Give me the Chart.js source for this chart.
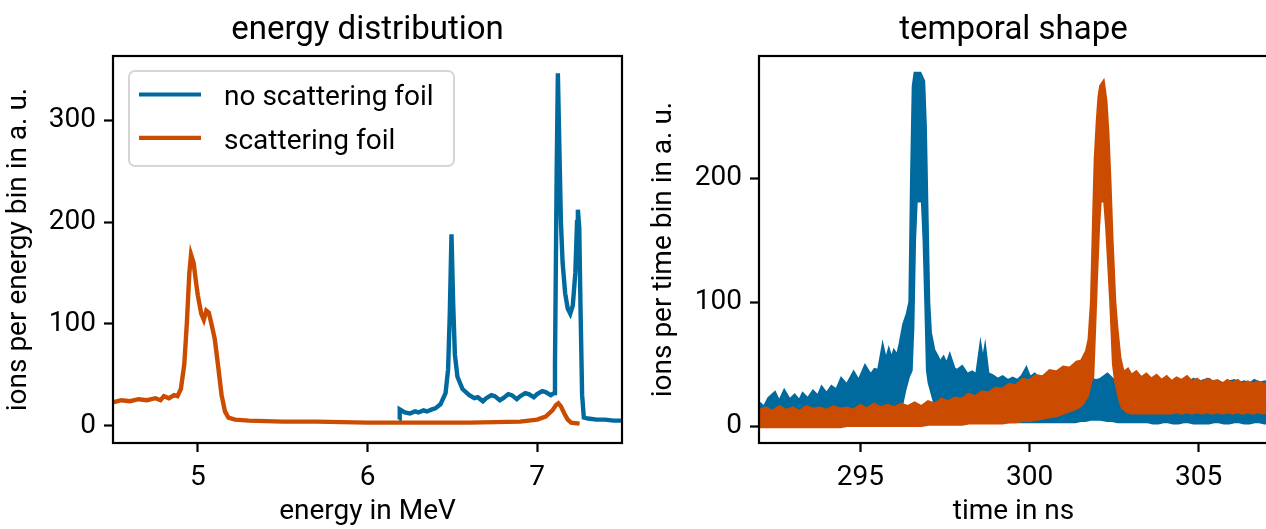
<!DOCTYPE html>
<html>
<head>
<meta charset="utf-8">
<script src="https://cdn.jsdelivr.net/npm/chart.js@4.4.1/dist/chart.umd.min.js"></script>
<style>
  html, body { margin: 0; padding: 0; background: #fff; overflow: hidden; }
  body { width: 1266px; height: 529px; position: relative; }
  canvas { position: absolute; top: 0; }
  #energyChart { left: 0; }
  #timeChart { left: 640px; }
</style>
</head>
<body>
<canvas id="energyChart" width="640" height="529"></canvas>
<canvas id="timeChart" width="628" height="529"></canvas>
<script>
const seriesNames = ["no scattering foil", "scattering foil"];
const seriesColors = ["#006a9e", "#cb4c00"];

const energyTicks = [5, 6, 7];
const energyCountTicks = [0, 100, 200, 300];
const timeTicks = [295, 300, 305];
const timeCountTicks = [0, 100, 200];

// energy spectra, MeV -> ions per bin
const energyNoFoil = [6.187, 6.19, 6.22, 6.25, 6.28, 6.30, 6.33, 6.35, 6.38, 6.40,
  6.43, 6.46, 6.475, 6.485, 6.495, 6.505, 6.515, 6.53, 6.56, 6.60,
  6.63, 6.65, 6.68, 6.70, 6.73, 6.75, 6.78, 6.80, 6.83, 6.85,
  6.88, 6.90, 6.93, 6.95, 6.98, 7.00, 7.03, 7.05, 7.08, 7.10,
  7.105, 7.115, 7.122, 7.13, 7.14, 7.15, 7.165, 7.18, 7.195, 7.21,
  7.225, 7.235, 7.24, 7.248, 7.255, 7.265, 7.275, 7.30, 7.35, 7.40,
  7.45, 7.50];
const countsNoFoil = [6, 16, 13, 12, 14, 13, 15, 14, 16, 17,
  21, 32, 55, 110, 188, 120, 70, 48, 36, 30,
  27, 28, 24, 27, 30, 29, 25, 27, 31, 30,
  26, 29, 32, 31, 28, 31, 34, 33, 30, 32,
  60, 250, 346, 280, 200, 160, 130, 115, 110, 118,
  150, 200, 212, 195, 120, 30, 8, 7, 6, 6,
  5, 5];
const energyFoil = [4.50, 4.55, 4.60, 4.65, 4.70, 4.75, 4.78, 4.80, 4.83, 4.86,
  4.88, 4.90, 4.92, 4.935, 4.95, 4.96, 4.975, 4.99, 5.00, 5.02,
  5.035, 5.05, 5.065, 5.08, 5.10, 5.12, 5.14, 5.16, 5.18, 5.22,
  5.30, 5.50, 5.70, 6.00, 6.30, 6.60, 6.90, 7.00, 7.05, 7.09,
  7.11, 7.125, 7.14, 7.16, 7.18, 7.20, 7.25];
const countsFoil = [23, 25, 24, 26, 25, 27, 25, 29, 27, 30,
  29, 36, 60, 100, 150, 168, 160, 140, 128, 110,
  104, 113, 111, 100, 85, 58, 30, 14, 8, 6,
  5, 4, 4, 3, 3, 3, 4, 6, 9, 15,
  20, 22, 19, 12, 6, 3, 2];

// temporal shape: upper and lower edge of the noisy trace, ns -> ions per bin
const timeNoFoil = [292.0, 292.15, 292.3, 292.46, 292.6, 292.75, 292.9, 293.05, 293.2, 293.3,
  293.45, 293.6, 293.75, 293.86, 294.0, 294.15, 294.3, 294.44, 294.6, 294.8,
  294.95, 295.14, 295.3, 295.43, 295.55, 295.66, 295.75, 295.84, 295.92, 296.0,
  296.1, 296.19, 296.3, 296.4, 296.48, 296.53, 296.58, 296.63, 296.75, 296.85,
  296.9, 296.95, 297.0, 297.05, 297.15, 297.25, 297.35, 297.45, 297.55, 297.64,
  297.75, 297.85, 298.0, 298.15, 298.3, 298.45, 298.55, 298.62, 298.68, 298.75,
  298.9, 299.05, 299.2, 299.35, 299.5, 299.65, 299.8, 299.9, 300.0, 300.15,
  300.3, 300.45, 300.6, 300.75, 300.9, 301.05, 301.2, 301.35, 301.5, 301.65,
  301.8, 301.95, 302.1, 302.3, 302.45, 302.6, 302.75, 302.9, 303.05, 303.2,
  303.35, 303.5, 303.65, 303.8, 303.95, 304.1, 304.25, 304.4, 304.55, 304.7,
  304.85, 305.0, 305.15, 305.3, 305.45, 305.6, 305.75, 305.9, 306.05, 306.2,
  306.35, 306.5, 306.65, 306.8, 306.95, 307.1];
const highNoFoil = [18, 14, 22, 26, 18, 27, 20, 24, 19, 25,
  21, 27, 23, 30, 25, 31, 28, 37, 32, 42,
  35, 47, 40, 45, 44, 61, 50, 59, 52, 59,
  55, 66, 82, 90, 100, 200, 274, 284, 284, 278,
  241, 170, 100, 75, 61, 56, 50, 54, 48, 55,
  46, 44, 47, 41, 43, 40, 60, 48, 58, 42,
  40, 37, 39, 36, 38, 36, 40, 45, 38, 41,
  37, 40, 36, 39, 37, 35, 38, 36, 37, 35,
  38, 36, 37, 41, 37, 35, 33, 31, 33, 30,
  34, 32, 35, 33, 36, 34, 35, 33, 36, 34,
  37, 34, 36, 37, 34, 35, 33, 35, 36, 34,
  35, 33, 36, 34, 35, 33];
const lowNoFoil = [8, 8, 9, 9, 9, 10, 9, 10, 9, 10,
  10, 10, 11, 11, 11, 11, 11, 12, 12, 12,
  12, 13, 13, 13, 13, 13, 14, 14, 14, 14,
  15, 16, 30, 40, 45, 80, 150, 182, 182, 182,
  150, 100, 45, 35, 25, 15, 12, 10, 9, 8,
  7, 7, 6, 6, 6, 5, 5, 5, 5, 5,
  5, 5, 4, 4, 4, 4, 4, 4, 4, 4,
  4, 4, 4, 4, 4, 4, 4, 4, 5, 5,
  6, 6, 6, 5, 5, 4, 4, 4, 4, 4,
  4, 4, 3, 3, 4, 4, 3, 3, 4, 4,
  3, 3, 3, 3, 4, 4, 3, 3, 4, 4,
  3, 3, 4, 4, 3, 3];
const timeFoil = [292.0, 292.2, 292.4, 292.6, 292.8, 293.0, 293.2, 293.4, 293.6, 293.8,
  294.0, 294.2, 294.4, 294.6, 294.8, 295.0, 295.2, 295.4, 295.6, 295.8,
  296.0, 296.2, 296.4, 296.6, 296.8, 297.0, 297.2, 297.4, 297.6, 297.8,
  298.0, 298.2, 298.4, 298.6, 298.8, 299.0, 299.2, 299.4, 299.6, 299.8,
  300.0, 300.2, 300.4, 300.6, 300.8, 301.0, 301.2, 301.4, 301.55, 301.7,
  301.78, 301.85, 301.92, 301.96, 302.02, 302.07, 302.12, 302.17, 302.24, 302.3,
  302.36, 302.42, 302.5, 302.56, 302.65, 302.76, 302.9, 303.0, 303.15, 303.3,
  303.45, 303.6, 303.75, 303.9, 304.05, 304.2, 304.35, 304.5, 304.65, 304.8,
  304.95, 305.1, 305.25, 305.4, 305.55, 305.7, 305.85, 306.0, 306.15, 306.3,
  306.45, 306.6, 306.75, 306.9, 307.1];
const highFoil = [12, 14, 11, 15, 12, 14, 11, 15, 13, 14,
  12, 15, 13, 14, 12, 16, 13, 17, 14, 16,
  14, 17, 15, 18, 15, 19, 17, 21, 19, 22,
  21, 25, 23, 27, 26, 30, 29, 33, 32, 37,
  36, 40, 39, 44, 43, 47, 46, 51, 52, 60,
  70, 100, 175, 215, 245, 265, 274, 276, 262, 235,
  195, 150, 100, 80, 55, 42, 45, 40, 43, 38,
  41, 37, 40, 36, 39, 35, 38, 36, 39, 35,
  37, 34, 37, 35, 36, 33, 36, 34, 36, 33,
  35, 33, 35, 33, 34];
const lowFoil = [0, 0, 0, 0, 0, 0, 0, 0, 0, 0,
  0, 0, 0, 1, 1, 1, 1, 1, 1, 1,
  1, 1, 1, 1, 1, 2, 2, 2, 2, 2,
  2, 3, 3, 3, 3, 3, 3, 4, 4, 5,
  5, 6, 7, 8, 9, 11, 13, 15, 18, 25,
  35, 40, 90, 120, 160, 182, 182, 182, 182, 160,
  130, 100, 50, 37, 25, 15, 12, 11, 11, 11,
  11, 11, 11, 11, 11, 11, 12, 11, 12, 11,
  12, 11, 12, 11, 12, 11, 12, 11, 12, 11,
  12, 11, 12, 11, 12];

const FONT = "Roboto";
const toPoints = (xs, ys) => xs.map((x, i) => ({ x: x, y: ys[i] }));
const fixedTicks = (values) => (scale) => {
  scale.ticks = values.map((v) => ({ value: v }));
};

// full box round the plot, like matplotlib spines
const frame = {
  id: "frame",
  afterDatasetsDraw(chart) {
    const { ctx, chartArea: a } = chart;
    ctx.save();
    ctx.strokeStyle = "#000";
    ctx.lineWidth = 2.2;
    ctx.strokeRect(a.left, a.top, a.right - a.left, a.bottom - a.top);
    ctx.restore();
  },
};

// title centred over the plot area
const axTitle = {
  id: "axTitle",
  afterDraw(chart, args, opts) {
    const { ctx, chartArea: a } = chart;
    ctx.save();
    ctx.font = "33px " + FONT;
    ctx.fillStyle = "#000";
    ctx.textAlign = "center";
    ctx.textBaseline = "alphabetic";
    ctx.fillText(opts.text, (a.left + a.right) / 2, a.top - 17);
    ctx.restore();
  },
};

const boxLegend = {
  id: "boxLegend",
  afterDraw(chart, args, opts) {
    if (!opts.show) return;
    const { ctx, chartArea: a } = chart;
    const x = a.left + 16;
    const y = a.top + 15;
    ctx.save();
    ctx.fillStyle = "rgba(255,255,255,0.8)";
    ctx.strokeStyle = "#d6d6d6";
    ctx.lineWidth = 2;
    ctx.beginPath();
    ctx.roundRect(x, y, 325, 95, 6);
    ctx.fill();
    ctx.stroke();
    ctx.font = "28px " + FONT;
    ctx.fillStyle = "#000";
    ctx.textBaseline = "alphabetic";
    seriesNames.forEach((name, i) => {
      const ly = y + 23.5 + i * 43.4;
      ctx.strokeStyle = seriesColors[i];
      ctx.lineWidth = 4.2;
      ctx.beginPath();
      ctx.moveTo(x + 10, ly);
      ctx.lineTo(x + 72, ly);
      ctx.stroke();
      ctx.fillText(name, x + 95, y + 34.3 + i * 43.4);
    });
    ctx.restore();
  },
};

function xAxis(min, max, ticks, title) {
  return {
    type: "linear",
    min: min,
    max: max,
    afterBuildTicks: fixedTicks(ticks),
    afterFit: (s) => { s.height = 86; },
    grid: { display: true, drawOnChartArea: false, drawTicks: true, tickLength: 9, tickWidth: 2.2, tickColor: "#000" },
    border: { display: false },
    ticks: { color: "#000", font: { family: FONT, size: 28 }, padding: 9, maxRotation: 0, autoSkip: false },
    title: { display: true, text: title, color: "#000", font: { family: FONT, size: 28 }, padding: { top: 0, bottom: 0 } },
  };
}

function yAxis(min, max, ticks, title, width, pad) {
  return {
    type: "linear",
    min: min,
    max: max,
    afterBuildTicks: fixedTicks(ticks),
    afterFit: (s) => { s.width = width; },
    grid: { display: true, drawOnChartArea: false, drawTicks: true, tickLength: 9, tickWidth: 2.2, tickColor: "#000" },
    border: { display: false },
    ticks: { color: "#000", font: { family: FONT, size: 28 }, padding: 8, autoSkip: false },
    title: { display: true, text: title, color: "#000", font: { family: FONT, size: 28 }, padding: { top: pad, bottom: 0 } },
  };
}

const lineStyle = { pointRadius: 0, borderWidth: 4.4, tension: 0 };

new Chart(document.getElementById("energyChart"), {
  type: "line",
  data: {
    datasets: [
      { label: seriesNames[0], data: toPoints(energyNoFoil, countsNoFoil), borderColor: seriesColors[0], order: 1, fill: false, ...lineStyle },
      { label: seriesNames[1], data: toPoints(energyFoil, countsFoil), borderColor: seriesColors[1], order: 0, fill: false, ...lineStyle },
    ],
  },
  options: {
    responsive: false,
    animation: false,
    devicePixelRatio: 1,
    events: [],
    layout: { padding: { top: 56, right: 18, left: 0, bottom: 0 } },
    scales: {
      x: xAxis(4.5, 7.5, energyTicks, "energy in MeV"),
      y: yAxis(-17, 363, energyCountTicks, "ions per energy bin in a. u.", 113, 2),
    },
    plugins: {
      legend: { display: false },
      tooltip: { enabled: false },
      axTitle: { text: "energy distribution" },
      boxLegend: { show: true },
    },
  },
  plugins: [frame, axTitle, boxLegend],
});

// each trace is drawn as the band between its upper and lower edge
new Chart(document.getElementById("timeChart"), {
  type: "line",
  data: {
    datasets: [
      { label: seriesNames[0], data: toPoints(timeNoFoil, highNoFoil), borderColor: seriesColors[0], backgroundColor: seriesColors[0], fill: "+1", order: 1, ...lineStyle },
      { data: toPoints(timeNoFoil, lowNoFoil), borderColor: seriesColors[0], fill: false, order: 1, ...lineStyle },
      { label: seriesNames[1], data: toPoints(timeFoil, highFoil), borderColor: seriesColors[1], backgroundColor: seriesColors[1], fill: "+1", order: 0, ...lineStyle },
      { data: toPoints(timeFoil, lowFoil), borderColor: seriesColors[1], fill: false, order: 0, ...lineStyle },
    ],
  },
  options: {
    responsive: false,
    animation: false,
    devicePixelRatio: 1,
    events: [],
    layout: { padding: { top: 56, right: 0, left: 0, bottom: 0 } },
    scales: {
      x: xAxis(292, 307.05, timeTicks, "time in ns"),
      y: yAxis(-13.7, 298.4, timeCountTicks, "ions per time bin in a. u.", 119, 7),
    },
    plugins: {
      legend: { display: false },
      tooltip: { enabled: false },
      axTitle: { text: "temporal shape" },
      boxLegend: { show: false },
    },
  },
  plugins: [frame, axTitle, boxLegend],
});
</script>
</body>
</html>
